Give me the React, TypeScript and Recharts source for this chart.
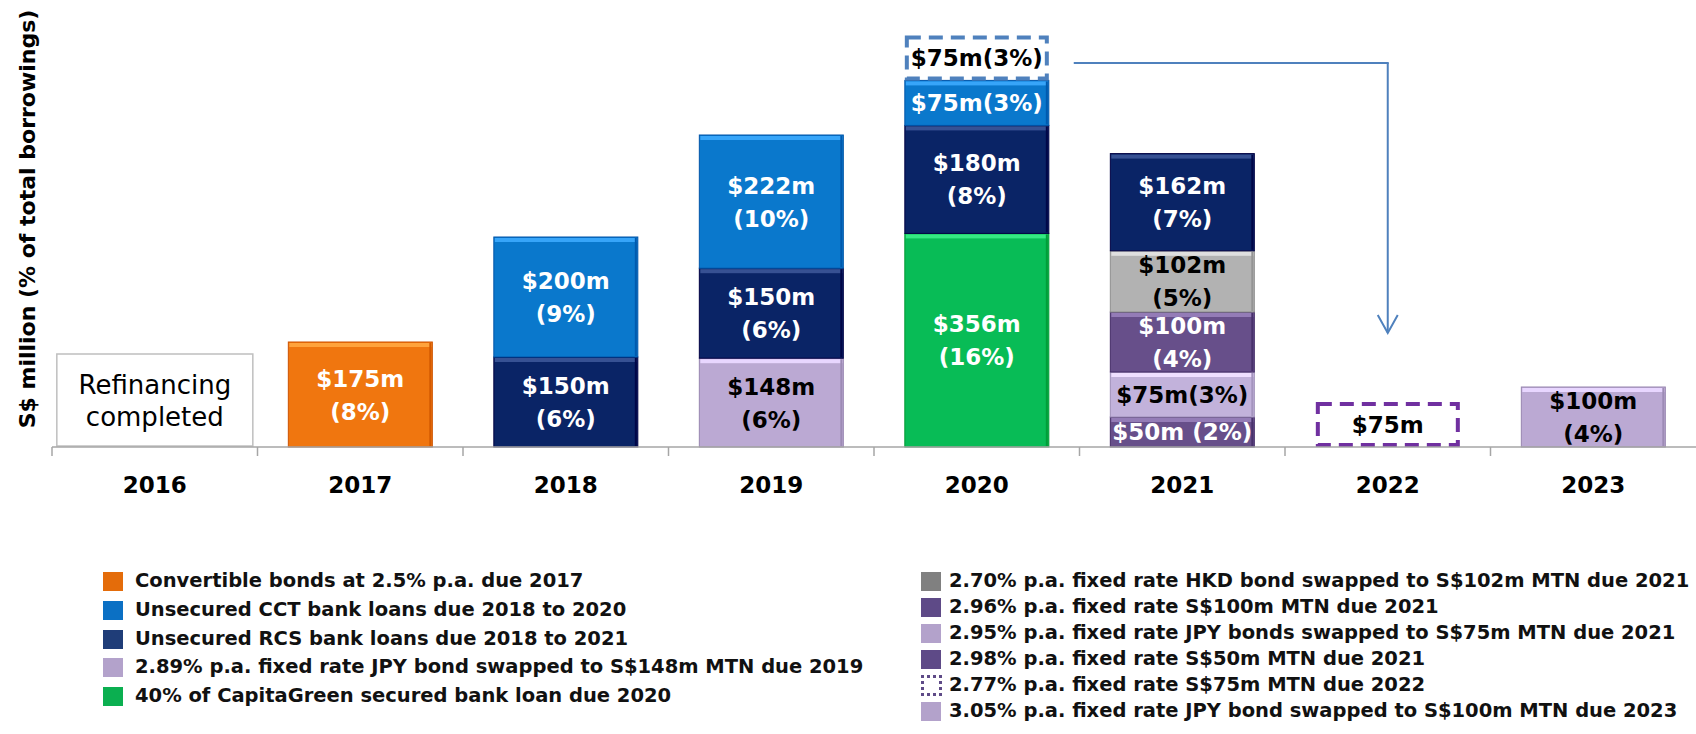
import React from 'react';
import { BarChart, Bar, XAxis, YAxis, LabelList, ReferenceLine } from 'recharts';

const years = ['2016', '2017', '2018', '2019', '2020', '2021', '2022', '2023'];

// S$ million maturing per year, one array per tranche
const convertible = [0, 175, 0, 0, 0, 0, 0, 0];
const cctLoans = [0, 0, 200, 222, 75, 0, 0, 0];
const rcsLoans = [0, 0, 150, 150, 180, 162, 0, 0];
const jpy148 = [0, 0, 0, 148, 0, 0, 0, 0];
const capitaGreen = [0, 0, 0, 0, 356, 0, 0, 0];
const hkd102 = [0, 0, 0, 0, 0, 102, 0, 0];
const mtn100 = [0, 0, 0, 0, 0, 100, 0, 0];
const jpy75 = [0, 0, 0, 0, 0, 75, 0, 0];
const mtn50 = [0, 0, 0, 0, 0, 50, 0, 0];
const refinanced2020 = [0, 0, 0, 0, 75, 0, 0, 0];
const mtn75 = [0, 0, 0, 0, 0, 0, 75, 0];
const jpy100 = [0, 0, 0, 0, 0, 0, 0, 100];
// height of the "Refinancing completed" box, in the same units
const refinancedBox = [155, 0, 0, 0, 0, 0, 0, 0];

// % of total borrowings
const convertiblePct = [null, 8, null, null, null, null, null, null];
const cctPct = [null, null, 9, 10, 3, null, null, null];
const rcsPct = [null, null, 6, 6, 8, 7, null, null];
const jpy148Pct = [null, null, null, 6, null, null, null, null];
const capitaGreenPct = [null, null, null, null, 16, null, null, null];
const hkd102Pct = [null, null, null, null, null, 5, null, null];
const mtn100Pct = [null, null, null, null, null, 4, null, null];
const jpy75Pct = [null, null, null, null, null, 3, null, null];
const mtn50Pct = [null, null, null, null, null, 2, null, null];
const refinanced2020Pct = [null, null, null, null, 3, null, null, null];
const mtn75Pct = [null, null, null, null, null, null, null, null];
const jpy100Pct = [null, null, null, null, null, null, null, 4];

const leftLegend = [
  { label: 'Convertible bonds at 2.5% p.a. due 2017', color: '#E46C0A' },
  { label: 'Unsecured CCT bank loans due 2018 to 2020', color: '#0B70C4' },
  { label: 'Unsecured RCS bank loans due 2018 to 2021', color: '#1F3D78' },
  { label: '2.89% p.a. fixed rate JPY bond swapped to S$148m MTN due 2019', color: '#B3A2CB' },
  { label: '40% of CapitaGreen secured bank loan due 2020', color: '#0BAF50' },
];
const rightLegend = [
  { label: '2.70% p.a. fixed rate HKD bond swapped to S$102m MTN due 2021', color: '#808080' },
  { label: '2.96% p.a. fixed rate S$100m MTN due 2021', color: '#5E4A87' },
  { label: '2.95% p.a. fixed rate JPY bonds swapped to S$75m MTN due 2021', color: '#B3A2CB' },
  { label: '2.98% p.a. fixed rate S$50m MTN due 2021', color: '#5E4A87' },
  { label: '2.77% p.a. fixed rate S$75m MTN due 2022', color: '#5E4A87', dashed: true },
  { label: '3.05% p.a. fixed rate JPY bond swapped to S$100m MTN due 2023', color: '#B3A2CB' },
];

// stacking order, bottom to top
const series = [
  { key: 'refinancedBox', values: refinancedBox, pct: [], fill: '#FFFFFF', text: '#000', kind: 'box' },
  { key: 'mtn50', values: mtn50, pct: mtn50Pct, fill: '#674F8A', text: '#FFF', sep: ' ' },
  { key: 'jpy75', values: jpy75, pct: jpy75Pct, fill: '#C2B2DB', text: '#000' },
  { key: 'mtn100', values: mtn100, pct: mtn100Pct, fill: '#674F8A', text: '#FFF' },
  { key: 'hkd102', values: hkd102, pct: hkd102Pct, fill: '#B2B2B2', text: '#000' },
  { key: 'jpy148', values: jpy148, pct: jpy148Pct, fill: '#BBA9D3', text: '#000' },
  { key: 'capitaGreen', values: capitaGreen, pct: capitaGreenPct, fill: '#08BC56', text: '#FFF' },
  { key: 'convertible', values: convertible, pct: convertiblePct, fill: '#F0760F', text: '#FFF' },
  { key: 'rcsLoans', values: rcsLoans, pct: rcsPct, fill: '#0A2466', text: '#FFF' },
  { key: 'cctLoans', values: cctLoans, pct: cctPct, fill: '#0A78CC', text: '#FFF' },
  { key: 'refinanced2020', values: refinanced2020, pct: refinanced2020Pct, fill: '#FFFFFF', text: '#000', kind: 'dashed', stroke: '#4F81BD' },
  { key: 'mtn75', values: mtn75, pct: mtn75Pct, fill: '#FFFFFF', text: '#000', kind: 'dashed', stroke: '#7030A0' },
  { key: 'jpy100', values: jpy100, pct: jpy100Pct, fill: '#BBA9D3', text: '#000' },
];

const data = years.map((year, i) => {
  const row: any = { year };
  series.forEach((s) => {
    row[s.key] = s.values[i];
  });
  return row;
});

const FONT = '"DejaVu Sans", sans-serif';

const shade = (hex: string, amt: number) => {
  const n = parseInt(hex.slice(1), 16);
  const f = (c: number) => Math.max(0, Math.min(255, Math.round(c + amt)));
  const r = f((n >> 16) & 255), g = f((n >> 8) & 255), b = f(n & 255);
  return `rgb(${r},${g},${b})`;
};

const makeShape = (s: any) => (props: any) => {
  const { x, y, width, height } = props;
  if (!height || height <= 0) return null;
  if (s.kind === 'box') {
    const w = 196;
    const bx = x + width / 2 - w / 2;
    const cx = x + width / 2;
    const cy = y + height / 2;
    return (
      <g>
        <rect x={bx} y={y} width={w} height={height - 1} fill="#FFFFFF" stroke="#BFBFBF" strokeWidth={1.5} />
        <text x={cx} y={cy - 7} textAnchor="middle" fontFamily={FONT} fontSize={26} fill="#000">Refinancing</text>
        <text x={cx} y={cy + 25} textAnchor="middle" fontFamily={FONT} fontSize={26} fill="#000">completed</text>
      </g>
    );
  }
  if (s.kind === 'dashed') {
    return (
      <rect x={x + 2} y={y + 2} width={width - 4} height={height - 4} fill="#FFFFFF"
        stroke={s.stroke} strokeWidth={4} strokeDasharray="14 8" />
    );
  }
  return (
    <g>
      <rect x={x} y={y} width={width} height={height} fill={s.fill} stroke={shade(s.fill, -35)} strokeWidth={1} />
      <rect x={x + 1} y={y + 1} width={width - 2} height={Math.min(4, height - 2)} fill={shade(s.fill, 45)} />
      <rect x={x + width - 3} y={y + 1} width={2} height={height - 2} fill={shade(s.fill, -30)} />
    </g>
  );
};

const makeLabel = (s: any) => (props: any) => {
  const { x, y, width, height, index } = props;
  const v = s.values[index];
  if (!v || s.kind === 'box') return null;
  const cx = x + width / 2;
  const cy = y + height / 2;
  const top = `$${v}m`;
  const p = s.pct[index];
  const common = { textAnchor: 'middle' as const, fontFamily: FONT, fontWeight: 'bold', fontSize: 23, fill: s.text };
  if (p == null) {
    return <text x={cx} y={cy + 8} {...common}>{top}</text>;
  }
  const bottom = `(${p}%)`;
  if (height < 50) {
    return <text x={cx} y={cy + 8} {...common}>{top + (s.sep || '') + bottom}</text>;
  }
  return (
    <text {...common}>
      <tspan x={cx} y={cy - 8}>{top}</tspan>
      <tspan x={cx} y={cy + 25}>{bottom}</tspan>
    </text>
  );
};

const YearTick = (props: any) => {
  const { x, y, payload } = props;
  const half = payload && payload.offset ? payload.offset : 102.75;
  return (
    <g>
      <line x1={x - half} y1={y} x2={x - half} y2={y + 9} stroke="#A6A6A6" strokeWidth={1.5} />
      <text x={x} y={y + 46} textAnchor="middle" fontFamily={FONT} fontWeight="bold" fontSize={23} fill="#000">
        {payload.value}
      </text>
    </g>
  );
};

const YTitle = (props: any) => {
  const vb = props.viewBox || { x: 0, y: 27, width: 52, height: 420 };
  const cx = vb.x + 27;
  const cy = 219;
  return (
    <text x={cx} y={cy} transform={`rotate(-90, ${cx}, ${cy})`} textAnchor="middle" dominantBaseline="central"
      fontFamily={FONT} fontWeight="bold" fontSize={22} fill="#000">
      S$ million (% of total borrowings)
    </text>
  );
};

const ArrowAcross = (p: any) => (
  <line x1={p.x1 + 97} y1={p.y1} x2={p.x2 + 1} y2={p.y2} stroke="#4F81BD" strokeWidth={2} />
);

const ArrowDown = (p: any) => (
  <g fill="none" stroke="#4F81BD" strokeWidth={2}>
    <line x1={p.x1} y1={p.y1} x2={p.x2} y2={p.y2} />
    <polyline points={`${p.x2 - 10},${p.y2 - 18} ${p.x2},${p.y2} ${p.x2 + 10},${p.y2 - 18}`} />
  </g>
);

const LegendColumn = ({ items, left, tops, textLeft }: any) => (
  <>
    {items.map((it: any, i: number) => (
      <div key={it.label} style={{ position: 'absolute', left, top: tops[i] - 12, height: 24, display: 'flex', alignItems: 'center' }}>
        {it.dashed ? (
          <div style={{ width: 15, height: 15, border: `3px dotted ${it.color}`, marginLeft: 0 }} />
        ) : (
          <div style={{ width: 20, height: 19, background: it.color }} />
        )}
        <span style={{ position: 'absolute', left: textLeft - left, whiteSpace: 'nowrap', fontFamily: FONT, fontWeight: 'bold', fontSize: 19.5, color: '#111', lineHeight: '24px' }}>
          {it.label}
        </span>
      </div>
    ))}
  </>
);

export default function App() {
  return (
    <div style={{ position: 'relative', width: 1696, height: 734, background: '#FFFFFF' }}>
      <style>{'body{margin:0}'}</style>
      <BarChart width={1696} height={734} data={data} margin={{ top: 27, right: 0, bottom: 0, left: 0 }} barCategoryGap="15%">
        <XAxis dataKey="year" height={287} axisLine={{ stroke: '#A6A6A6', strokeWidth: 1.5 }} tickLine={false}
          tickSize={0} tickMargin={0} tick={<YearTick />} interval={0} />
        <YAxis type="number" domain={[0, 700]} width={52} axisLine={false} tickLine={false} tick={false}
          label={<YTitle />} />
        {series.map((s) => (
          <Bar key={s.key} dataKey={s.key} stackId="a" fill={s.fill} isAnimationActive={false} shape={makeShape(s)}>
            <LabelList dataKey={s.key} content={makeLabel(s)} />
          </Bar>
        ))}
        <ReferenceLine segment={[{ x: '2020', y: 640 }, { x: '2022', y: 640 }]} shape={ArrowAcross} />
        <ReferenceLine segment={[{ x: '2022', y: 640 }, { x: '2022', y: 190 }]} shape={ArrowDown} />
      </BarChart>
      <LegendColumn items={leftLegend} left={103} textLeft={135} tops={[581, 610, 639, 667, 696]} />
      <LegendColumn items={rightLegend} left={921} textLeft={949} tops={[581, 607, 633, 659, 685, 711]} />
    </div>
  );
}
